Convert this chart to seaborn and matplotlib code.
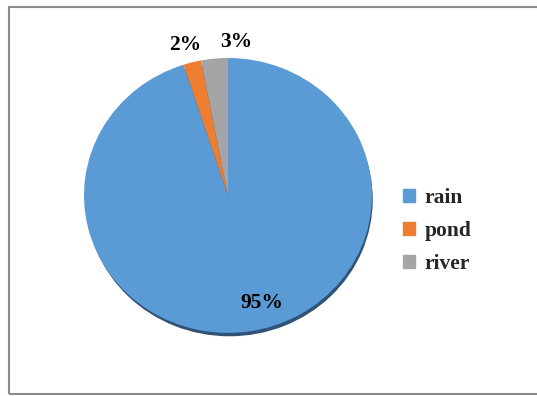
import numpy as np
import seaborn as sns
import matplotlib.pyplot as plt
from matplotlib.patches import Rectangle

sources = ["rain", "pond", "river"]
shares = [95, 2, 3]
colors = ["#5B9BD5", "#ED7D31", "#A5A5A5"]
pct_labels = ["95%", "2%", "3%"]

sns.set_theme(style="white")
plt.rcParams['font.family'] = ['Liberation Serif', 'DejaVu Serif']

fig = plt.figure(figsize=(5.37, 3.96), dpi=100)
fig.patches.append(Rectangle((9 / 537, 2 / 396), 1.0, 387 / 396, transform=fig.transFigure,
                             fill=False, edgecolor="#8c8c8c", linewidth=1.5))

ax = fig.add_axes([84 / 537, 59 / 396, 288 / 537, 279 / 396])
# shadow under the pie
ax.pie([1], colors=["#2F5275"], radius=1.0, center=(0.01, -0.03), startangle=90)
wedges, _ = ax.pie(shares, colors=colors, startangle=90, counterclock=False,
                   wedgeprops=dict(linewidth=0))
ax.set_xlim(-1.0, 1.0)
ax.set_ylim(-1.03, 1.0)
ax.set_aspect('auto')
ax.axis('off')

# label centres in pixel coords of the figure
label_pos = {"95%": (262, 303), "2%": (185, 45), "3%": (236, 42)}
for lab in pct_labels:
    x, y = label_pos[lab]
    fig.text(x / 537, 1 - y / 396, lab, ha='center', va='center',
             fontsize=15.5, fontweight='bold', color='black')

handles = [Rectangle((0, 0), 1, 1, color=c) for c in colors]
fig.legend(handles, sources, loc='center left', bbox_to_anchor=(384 / 537, 1 - 231 / 396),
           frameon=False, handlelength=0.55, handleheight=0.55, handletextpad=0.45,
           labelspacing=0.62, prop=dict(size=15.5, weight='bold'))

fig.savefig("out.png", dpi=100)
